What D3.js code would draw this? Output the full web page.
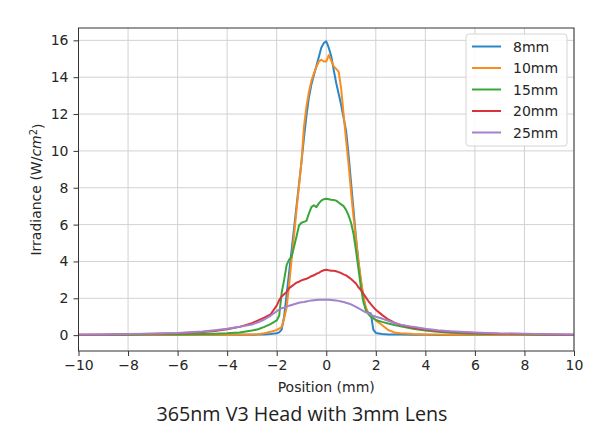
<!DOCTYPE html>
<html>
<head>
<meta charset="utf-8">
<script src="https://cdn.jsdelivr.net/npm/d3@7"></script>
<style>
  html, body { margin: 0; padding: 0; background: #ffffff; }
  svg { display: block; }
</style>
</head>
<body>
<svg id="chart" width="594" height="439"></svg>
<script>
// ---------------- data ----------------
const positions = [-10,-9,-8,-7,-6,-5,-4.5,-4,-3.5,-3,-2.75,-2.5,-2.25,-2,-1.9,-1.8,-1.7,-1.6,-1.5,-1.4,-1.3,-1.2,-1.1,-1,-0.9,-0.8,-0.7,-0.6,-0.5,-0.4,-0.3,-0.2,-0.1,0,0.1,0.2,0.3,0.4,0.5,0.6,0.7,0.8,0.9,1,1.1,1.2,1.3,1.4,1.5,1.6,1.7,1.8,1.9,2,2.25,2.5,2.75,3,3.5,4,4.5,5,6,7,8,9,10];

const seriesNames = ["8mm", "10mm", "15mm", "20mm", "25mm"];

const values8mm = [0.01,0.01,0.01,0.01,0.01,0.01,0.01,0.02,0.02,0.02,0.03,0.04,0.06,0.1,0.15,0.3,1.0,2.2,3.4,4.6,5.8,7.0,8.2,9.4,10.7,11.9,12.9,13.6,14.1,14.6,15.1,15.6,15.85,15.95,15.6,15.15,14.4,13.7,13.1,12.5,11.8,11.1,9.8,8.3,6.8,5.3,4.0,2.9,2.0,1.4,1.22,1.18,0.3,0.12,0.06,0.04,0.03,0.03,0.02,0.02,0.01,0.01,0.01,0.01,0.01,0.01,0.01];

const values10mm = [0.01,0.01,0.01,0.01,0.01,0.02,0.02,0.02,0.03,0.03,0.05,0.1,0.18,0.28,0.35,0.45,0.9,1.5,2.7,4.1,5.4,6.8,8.1,9.4,11.3,12.4,13.2,13.8,14.2,14.55,14.85,14.95,14.85,14.85,15.2,14.9,14.6,14.45,14.3,13.4,12.0,10.6,9.3,7.8,6.4,5.2,4.0,3.0,2.1,1.5,1.2,1.05,0.95,0.8,0.55,0.28,0.15,0.1,0.06,0.04,0.03,0.02,0.02,0.01,0.01,0.01,0.01];

const values15mm = [0.01,0.01,0.02,0.03,0.04,0.06,0.08,0.1,0.15,0.25,0.32,0.45,0.6,0.8,1.05,2.3,3.0,3.8,4.1,4.25,4.8,5.35,5.95,6.1,6.15,6.2,6.6,6.95,7.05,6.95,7.15,7.3,7.38,7.4,7.38,7.35,7.33,7.3,7.2,7.1,7.0,6.8,6.5,6.1,5.5,4.6,3.6,2.6,1.8,1.35,1.15,1.0,0.92,0.82,0.72,0.63,0.55,0.48,0.35,0.25,0.18,0.13,0.08,0.05,0.04,0.02,0.01];

const values20mm = [0.02,0.03,0.05,0.07,0.1,0.17,0.23,0.32,0.45,0.65,0.8,0.95,1.12,1.6,1.9,2.1,2.22,2.35,2.55,2.65,2.75,2.85,2.9,2.97,3.02,3.06,3.12,3.2,3.25,3.33,3.38,3.47,3.52,3.55,3.52,3.5,3.5,3.47,3.42,3.37,3.3,3.24,3.15,3.05,2.93,2.8,2.6,2.45,2.25,2.05,1.85,1.68,1.52,1.38,1.1,0.85,0.68,0.55,0.4,0.3,0.22,0.18,0.12,0.08,0.06,0.04,0.02];

const values25mm = [0.03,0.04,0.06,0.08,0.12,0.2,0.27,0.35,0.45,0.58,0.7,0.85,1.05,1.3,1.38,1.46,1.5,1.55,1.6,1.64,1.68,1.72,1.76,1.78,1.8,1.83,1.86,1.88,1.9,1.91,1.92,1.92,1.92,1.92,1.92,1.91,1.9,1.88,1.86,1.83,1.8,1.76,1.72,1.67,1.6,1.53,1.46,1.38,1.31,1.24,1.18,1.12,1.05,1.0,0.9,0.78,0.66,0.57,0.45,0.35,0.27,0.21,0.14,0.09,0.07,0.05,0.03];

const seriesValues = [values8mm, values10mm, values15mm, values20mm, values25mm];
const seriesColors = ["#2a86c7", "#fb8c1e", "#3aa63a", "#d8333a", "#a382cc"];

const xTicks = [-10,-8,-6,-4,-2,0,2,4,6,8,10];
const yTicks = [0,2,4,6,8,10,12,14,16];

const xLabel = "Position (mm)";
const chartTitle = "365nm V3 Head with 3mm Lens";

// ---------------- layout ----------------
const svg = d3.select("#chart");
const plot = { left: 78.5, right: 574, top: 28, bottom: 351 };
const FONT = "'DejaVu Sans', sans-serif";

const x = d3.scaleLinear().domain([-10, 10]).range([plot.left, plot.right]);
const y = d3.scaleLinear().domain([-0.86, 16.67]).range([plot.bottom, plot.top]);

// grid
const grid = svg.append("g");
grid.selectAll("line.vx").data(xTicks).join("line")
  .attr("x1", d => x(d)).attr("x2", d => x(d))
  .attr("y1", plot.top).attr("y2", plot.bottom)
  .attr("stroke", "#d2d2d2").attr("stroke-width", 1);
grid.selectAll("line.hy").data(yTicks).join("line")
  .attr("x1", plot.left).attr("x2", plot.right)
  .attr("y1", d => y(d)).attr("y2", d => y(d))
  .attr("stroke", "#d2d2d2").attr("stroke-width", 1);

// lines
const clipId = "plotclip";
svg.append("clipPath").attr("id", clipId).append("rect")
  .attr("x", plot.left).attr("y", plot.top)
  .attr("width", plot.right - plot.left).attr("height", plot.bottom - plot.top);

const line = d3.line().x(d => x(d[0])).y(d => y(d[1]));
const linesG = svg.append("g").attr("clip-path", `url(#${clipId})`);
seriesValues.forEach((vals, i) => {
  const pts = positions.map((p, j) => [p, vals[j]]);
  linesG.append("path").datum(pts)
    .attr("d", line)
    .attr("fill", "none")
    .attr("stroke", seriesColors[i])
    .attr("stroke-width", 2)
    .attr("stroke-linejoin", "round")
    .attr("stroke-linecap", "square");
});

// axes
const xAxis = d3.axisBottom(x).tickValues(xTicks).tickSize(5).tickPadding(4)
  .tickFormat(d => (d < 0 ? "\u2212" + Math.abs(d) : "" + d));
const yAxis = d3.axisLeft(y).tickValues(yTicks).tickSize(5).tickPadding(5)
  .tickFormat(d => "" + d);

const gx = svg.append("g").attr("transform", `translate(0,${plot.bottom})`).call(xAxis);
const gy = svg.append("g").attr("transform", `translate(${plot.left},0)`).call(yAxis);
[gx, gy].forEach(g => {
  g.select(".domain").remove();
  g.selectAll(".tick line").attr("stroke", "#333").attr("stroke-width", 1);
  g.selectAll(".tick text").attr("fill", "#262626")
    .style("font-family", FONT).style("font-size", "14px");
});

// frame (spines)
svg.append("rect")
  .attr("x", plot.left).attr("y", plot.top)
  .attr("width", plot.right - plot.left).attr("height", plot.bottom - plot.top)
  .attr("fill", "none").attr("stroke", "#333").attr("stroke-width", 1);

// x label
svg.append("text")
  .attr("x", (plot.left + plot.right) / 2).attr("y", 392)
  .attr("text-anchor", "middle")
  .attr("fill", "#262626")
  .style("font-family", FONT).style("font-size", "14px")
  .text(xLabel);

// y label with math-style unit
const yl = svg.append("text")
  .attr("transform", `translate(41,${(plot.top + plot.bottom) / 2}) rotate(-90)`)
  .attr("text-anchor", "middle")
  .attr("fill", "#262626")
  .style("font-family", FONT).style("font-size", "14px");
yl.append("tspan").text("Irradiance (W/");
yl.append("tspan").style("font-style", "italic").text("cm");
yl.append("tspan").attr("dy", "-0.45em").style("font-size", "10px").text("2");
yl.append("tspan").attr("dy", "0.45em").text(")");

// legend
const legend = svg.append("g");
const lgX = 466, lgY = 34, lgW = 101, lgH = 112;
legend.append("rect")
  .attr("x", lgX).attr("y", lgY).attr("width", lgW).attr("height", lgH)
  .attr("rx", 3).attr("fill", "#ffffff").attr("fill-opacity", 0.85)
  .attr("stroke", "#d4d4d4").attr("stroke-width", 1);
const rowY = d3.scaleLinear().domain([0, 4]).range([46.5, 132.5]);
seriesNames.forEach((name, i) => {
  legend.append("line")
    .attr("x1", 472).attr("x2", 501)
    .attr("y1", rowY(i)).attr("y2", rowY(i))
    .attr("stroke", seriesColors[i]).attr("stroke-width", 2);
  legend.append("text")
    .attr("x", 513).attr("y", rowY(i)).attr("dy", "0.36em")
    .attr("fill", "#262626")
    .style("font-family", FONT).style("font-size", "14px")
    .text(name);
});

// caption title
const title = svg.append("text")
  .attr("x", 302).attr("y", 421)
  .attr("text-anchor", "middle")
  .attr("fill", "#222")
  .style("font-family", "'Open Sans', 'Lato', sans-serif")
  .style("font-size", "17px")
  .text(chartTitle);
const tw = title.node().getComputedTextLength();
if (tw > 0) title.style("font-size", (17 * 291 / tw).toFixed(2) + "px");
</script>
</body>
</html>
